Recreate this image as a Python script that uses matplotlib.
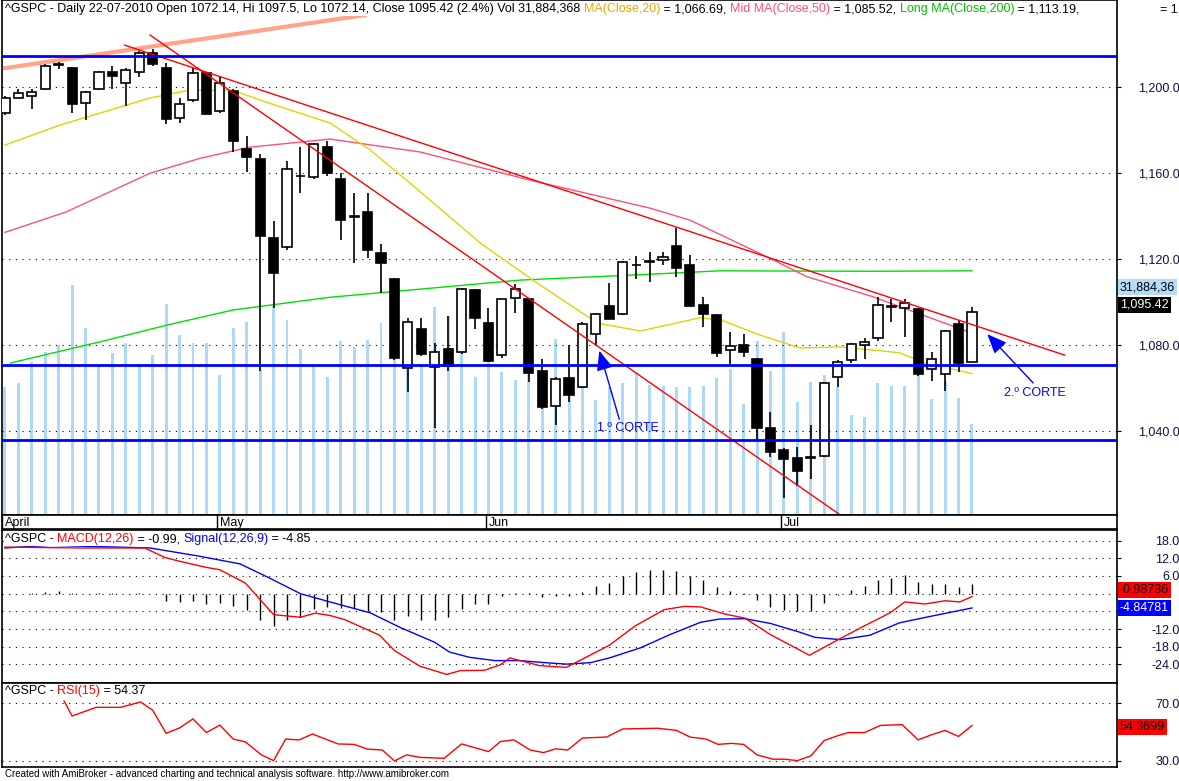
import matplotlib
matplotlib.use('Agg')
import matplotlib.pyplot as plt
import numpy as np

''' ^GSPC daily chart, amibroker style: candles + volume, MACD, RSI '''

plt.rcParams['font.family'] = 'Liberation Sans'

# daily candles, 1 april - 22 july 2010
opens = [1188, 1195, 1196, 1199, 1210.5, 1209, 1192.4, 1199, 1207, 1202, 1207, 1215.7, 1209, 1185.4, 1194, 1206.7,
         1189, 1198, 1171.3, 1166.5, 1130, 1125.4, 1158.8, 1158, 1172, 1157, 1140, 1141.7, 1122.6, 1110.7,
         1069.2, 1087.4, 1069.6, 1078, 1076.6, 1105.6, 1090.4, 1075.2, 1101.7, 1101.4, 1068, 1051.8, 1064.5,
         1060.3, 1085.3, 1098, 1094.3, 1117.4, 1118.9, 1119.4, 1126, 1117.2, 1098.6, 1094, 1077.5, 1079.9,
         1073.5, 1041.3, 1031.2, 1027.3, 1027.6, 1028.4, 1065.1, 1072.9, 1079.9, 1083.1, 1098.3, 1097.4,
         1096.6, 1068.7, 1066.4, 1089.8, 1072.14]
highs = [1196, 1199, 1199, 1210.5, 1211.8, 1209.5, 1198, 1207.5, 1210, 1209, 1217, 1217.5, 1211, 1195, 1208.8, 1207,
         1204.6, 1199, 1177, 1169, 1137.7, 1165.6, 1172.3, 1174, 1175, 1160, 1150.6, 1150.7, 1127, 1111,
         1092.7, 1092.7, 1081, 1093.6, 1106.5, 1106, 1097, 1101.5, 1108.4, 1102, 1073.5, 1065, 1080,
         1090.5, 1095, 1108.7, 1119, 1121.4, 1123.4, 1123.4, 1134.3, 1122, 1102.2, 1094.5, 1085.9, 1085,
         1074, 1048.7, 1032, 1032.4, 1042.8, 1063, 1073, 1081, 1083.1, 1102.2, 1101.5, 1101.3,
         1097, 1076.6, 1087, 1091.6, 1097.5]
lows = [1187, 1195, 1190, 1198.5, 1208.2, 1188, 1184.7, 1198.5, 1199, 1191, 1204.8, 1210, 1183, 1183.4, 1193, 1187,
        1188, 1170, 1160.6, 1068, 1097, 1124, 1150.8, 1157, 1158.6, 1129, 1118.3, 1120.6, 1104, 1073,
        1058, 1075, 1041.3, 1068, 1076, 1087.4, 1072, 1074, 1095, 1062.7, 1050, 1042.8, 1053.6,
        1060, 1079.7, 1092, 1094, 1110.6, 1109.4, 1117.2, 1111.8, 1097.5, 1088.5, 1074.3, 1071.2, 1074.3,
        1035.8, 1028, 1009, 1014.6, 1017.5, 1028, 1060.3, 1071.6, 1073.3, 1082, 1090.8, 1083.6,
        1065.6, 1063.4, 1058.8, 1067.6, 1072.14]
closes = [1195, 1197, 1197.5, 1210, 1210.2, 1192, 1197.5, 1207, 1205, 1208, 1216, 1210.8, 1185, 1192, 1206.4, 1187.6,
          1202, 1175, 1167.6, 1130.8, 1113.6, 1162, 1158.4, 1173.5, 1160, 1138, 1139.5, 1124, 1118, 1073.8,
          1090.6, 1075.8, 1076.6, 1070, 1106, 1092.4, 1072.7, 1101.3, 1105.9, 1066.8, 1051.3, 1064, 1056.7,
          1089.8, 1094.4, 1092.2, 1118.5, 1117.0, 1118.5, 1120.8, 1116, 1098.3, 1094.4, 1076.1, 1079.5, 1076.9,
          1041.5, 1030.4, 1026.8, 1021.5, 1028, 1062.2, 1072.2, 1080.3, 1081.3, 1098.5, 1097.9, 1099.4,
          1066.5, 1073.3, 1086.5, 1071.8, 1095.42]
volume_m = [44.8, 46.2, 53.6, 57.1, 59.5, 80.5, 65.5, 52.5, 56.7, 60.2, 52.5, 56.0, 73.9, 63.0, 60.2, 60.2,
            49.0, 65.5, 67.6, 50.8, 73.5, 68.3, 58.1, 51.8, 48.3, 60.9, 58.8, 61.3, 67.2, 60.6, 60.6, 51.8,
            72.8, 69.7, 56.7, 48.3, 62.0, 50.1, 47.3, 52.5, 40.3, 61.6, 48.3, 51.8, 40.3, 44.8, 46.2, 49.7,
            45.5, 45.2, 44.8, 44.8, 45.2, 48.0, 51.1, 38.9, 60.9, 50.4, 64.1, 39.6, 46.6, 49.0, 44.8, 35.0,
            34.3, 46.2, 45.2, 45.2, 49.0, 40.6, 46.9, 41.0, 31.88]
month_labels = ['April', 'May', 'Jun', 'Jul']
month_index = [0, 16, 36, 58]

# moving averages (candle index, value)
ma20_idx = [0, 4.1, 10.8, 13.8, 16.9, 20.1, 24.2, 27.2, 29.9, 35.4, 39.3, 44.1, 47.3, 51.8, 53.5, 56.0, 59.2, 62.2, 66.6, 68.4, 72]
ma20_val = [1173.0, 1182.3, 1194.9, 1198.6, 1198.6, 1191.6, 1183.3, 1170.7, 1156.7, 1127.4, 1110.2, 1090.2, 1086.5,
            1092.7, 1091.2, 1085.1, 1078.6, 1079.1, 1076.4, 1071.8, 1066.7]
ma50_idx = [0, 4.6, 10.8, 14.5, 18.2, 24.2, 30.9, 39.1, 48.0, 51.0, 56.7, 59.7, 64.6, 72]
ma50_val = [1132.4, 1142.0, 1159.9, 1166.8, 1172.0, 1175.8, 1169.8, 1156.7, 1143.7, 1138.1, 1121.1, 1111.8, 1102.5, 1085.5]
ma200_idx = [0.4, 7.1, 12.1, 17.0, 24.2, 38.4, 48.0, 53.2, 64.4, 72]
ma200_val = [1071.6, 1081.5, 1089.3, 1096.3, 1102.2, 1110.2, 1112.9, 1114.5, 1114.3, 1114.5]

# drawn studies: trend lines and support levels
trend_a = ([8.9, 78.9], [1219.5, 1075.3])
trend_b = ([10.8, 62.2], [1224.2, 1000.9])
trend_top = ([0, 26.8], [1208.8, 1233.5])
support_levels = [1214.4, 1070.7, 1035.8]

# MACD panel
macd_idx = [0, 5.6, 10.4, 11.9, 13.0, 14.9, 16.0, 17.9, 19.0, 20.0, 22.0, 23.1, 24.2, 25.3, 27.9, 29.0, 30.9, 32.9,
            33.9, 35.7, 36.9, 37.6, 39.8, 41.8, 42.4, 45.0, 46.9, 49.1, 50.6, 51.8, 53.6, 55.1, 57.0, 59.2, 59.9,
            62.2, 64.0, 65.9, 67.0, 68.5, 70.0, 71.1, 72]
macd_val = [15.8, 15.5, 15.5, 12.3, 11, 9, 8.1, 3.6, -2, -7.1, -8, -6.6, -7.4, -8.8, -14.1, -19.3, -24.6, -27.4,
            -26.1, -26, -24.1, -21.8, -24.4, -25, -23.6, -17.5, -11, -5.4, -4.3, -4.5, -6.9, -8.3, -13.9, -19.2, -20.9,
            -15.2, -10.9, -6.5, -2.8, -3.5, -2.4, -2.8, -0.99]
signal_idx = [0, 3.4, 10.8, 14.5, 17.5, 19.7, 22.0, 24.2, 27.2, 29.4, 32.0, 33.1, 34.6, 36.5, 38.3, 40.2, 41.8, 43.6,
              45.0, 47.3, 49.5, 51.8, 53.2, 55.1, 57.0, 59.2, 60.3, 62.2, 64.4, 66.6, 68.9, 72]
signal_val = [15.5, 16.4, 15.5, 12.7, 10.1, 5.3, 0, -2.8, -6.5, -11.4, -16.5, -19.8, -21.6, -22.7, -22.7, -23.4, -23.9,
              -23.4, -21.8, -18.4, -13.9, -9.7, -8.6, -8.5, -10.1, -13.1, -14.8, -15.6, -14.1, -9.9, -7.7, -4.85]
hist_val = [0, 0, 0.2, 0.5, 0.9, 0.2, 0, 0.2, 0.1, 0, 0.1, 0, -2.4, -2.8, -2.4, -3.4, -3, -4.3, -5.6, -8.8, -11, -9,
            -8, -5.1, -4.5, -4.9, -4.7, -5.8, -6.2, -8.8, -7.6, -9, -8.8, -8, -5.1, -3.4, -3.5, -0.8, 0.3, 0.1,
            -1.2, -0.9, -0.8, 0.4, 2.5, 3.6, 5.9, 7.4, 8, 8, 7.6, 5.9, 4.5, 2.3, 0.8, 0.1, -2, -4.5, -5.4, -6,
            -5.8, -3.2, -0.5, 1.3, 2.6, 4.6, 5.4, 6.2, 4.1, 3.3, 3.3, 2.4, 3.3]

# RSI panel
rsi_idx = [4.4, 5.0, 6.8, 8.6, 10.1, 11.0, 12.0, 13.0, 14.0, 15.0, 16.0, 17.0, 17.9, 19.1, 20.0, 20.9, 21.9, 22.9,
           24.8, 26.0, 27.0, 28.1, 29.0, 29.9, 30.9, 32.7, 34.0, 36.0, 36.9, 37.9, 39.1, 40.1, 41.0, 41.9, 43.0,
           44.8, 46.0, 48.6, 50.0, 51.0, 52.2, 53.1, 54.1, 55.0, 56.0, 57.2, 58.1, 59.0, 60.0, 61.0, 62.0, 62.8,
           64.0, 65.2, 66.8, 68.0, 69.0, 70.0, 71.0, 72.0]
rsi_val = [71.4, 61, 67, 67, 70.7, 65, 49, 52.7, 59, 49.5, 54.7, 45, 43, 34, 30, 45, 44.4, 48.5, 41.6, 41.3, 38,
           37.4, 29.8, 34, 32.3, 31.6, 41.6, 36.3, 43.3, 44.4, 37.4, 35.6, 38.2, 37.4, 45.7, 46.4, 52, 52.5, 51,
           46.4, 45, 41.3, 42, 41.3, 34, 31, 31, 30, 33.3, 44, 47.3, 49.5, 49.5, 54.5, 55, 44.4, 48, 51, 46.8, 54.37]

W, H = 1179, 781
RIGHT = 1117
LABEL_COL = '#101040'


def rect(x0, y0, x1, y1):
	# pixel box -> figure fraction
	return [x0 / W, 1 - y1 / H, (x1 - x0) / W, (y1 - y0) / H]


def chain(fig, x, y, parts, size=9):
	r = fig.canvas.get_renderer()
	for s, c in parts:
		t = fig.text(x / W, 1 - y / H, s, color=c, fontsize=size, va='center', ha='left', zorder=10)
		x += t.get_window_extent(r).width
	return x


def value_box(fig, y, s, fc, tc):
	fig.text(1120 / W, 1 - y / H, s, fontsize=9, color=tc, va='center', ha='left', zorder=10,
	         bbox=dict(boxstyle='square,pad=0.15', fc=fc, ec='none'))


def main():
	fig = plt.figure(figsize=(W / 100, H / 100), dpi=100)
	n = len(closes)
	idx = np.arange(n)
	xlim = (-0.22, (RIGHT - 5) / 13.43)

	ax_vol = fig.add_axes(rect(2, 0, RIGHT, 515))
	ax = fig.add_axes(rect(2, 0, RIGHT, 515))
	ax.patch.set_alpha(0)
	ax_vol.bar(idx, volume_m, width=0.22, color='#add8f7', linewidth=0)
	ax_vol.set_ylim(0, 180.5)
	ax_vol.set_xlim(*xlim)
	ax_vol.axis('off')

	ax.set_xlim(*xlim)
	ax.set_ylim(1000.9, 1240.5)
	for lvl in [1040, 1080, 1120, 1160, 1200]:
		ax.axhline(lvl, color='black', ls=(0, (1, 5)), lw=0.8, zorder=0)
	ax.plot(trend_top[0], trend_top[1], color='#ffa488', lw=3, zorder=2)
	ax.plot(ma200_idx, ma200_val, color='#00e000', lw=1, zorder=2)
	ax.plot(ma50_idx, ma50_val, color='#ff4f7a', lw=1, zorder=2)
	ax.plot(ma20_idx, ma20_val, color='#e0d400', lw=1, zorder=2)
	for o, h, l, c, i in zip(opens, highs, lows, closes, idx):
		ax.vlines(i, l, h, color='black', lw=1.2, zorder=3)
		up = c >= o
		ax.bar(i, max(abs(c - o), 0.4), bottom=min(o, c), width=0.68,
		       color='white' if up else 'black', edgecolor='black', lw=1.2, zorder=4)
	ax.plot(trend_a[0], trend_a[1], color='#ff0000', lw=1, zorder=5)
	ax.plot(trend_b[0], trend_b[1], color='#ff0000', lw=1, zorder=5)
	for lvl in support_levels:
		ax.axhline(lvl, color='#0000ff', lw=2, zorder=5)
	arrow = dict(arrowstyle='-|>,head_width=0.5,head_length=1.2', color='#0000ff', lw=1)
	ax.annotate('', xy=(44.2, 1078.6), xytext=(45.8, 1044.2), arrowprops=arrow, zorder=6)
	ax.text(44.1, 1041.4, '1.º CORTE', color='#0000ff', fontsize=9, ha='left', va='center')
	ax.annotate('', xy=(73.0, 1086.0), xytext=(76.7, 1061.4), arrowprops=arrow, zorder=6)
	ax.text(76.7, 1057.7, '2.º CORTE', color='#0000ff', fontsize=9, ha='center', va='center')
	ax.set_yticks([1040, 1080, 1120, 1160, 1200])
	ax.set_yticklabels(['1,040.0', '1,080.0', '1,120.0', '1,160.0', '1,200.0'])
	ax.set_xticks([])

	# date strip
	ax_d = fig.add_axes(rect(2, 515, RIGHT, 529))
	ax_d.set_xlim(*xlim)
	ax_d.set_ylim(0, 1)
	ax_d.set_xticks([])
	ax_d.set_yticks([])
	for lab, i in zip(month_labels, month_index):
		ax_d.axvline(i - 0.2, color='black', lw=1)
		ax_d.text(i, 0.45, lab, fontsize=9, va='center', ha='left')

	# MACD
	ax_m = fig.add_axes(rect(2, 530, RIGHT, 683))
	ax_m.set_xlim(*xlim)
	ax_m.set_ylim(-30.3, 21.6)
	for lvl in [18, 12, 6, 0, -6, -12, -18, -24]:
		ax_m.axhline(lvl, color='black', ls=(0, (1, 5)), lw=0.8, zorder=0)
	ax_m.vlines(idx, 0, hist_val, color='black', lw=1)
	ax_m.plot(signal_idx, signal_val, color='#0000ff', lw=1)
	ax_m.plot(macd_idx, macd_val, color='#ff0000', lw=1)
	ax_m.set_yticks([18, 12, 6, -12, -18, -24])
	ax_m.set_yticklabels(['18.0', '12.0', '6.0', '-12.0', '-18.0', '-24.0'])
	ax_m.set_xticks([])

	# RSI
	ax_r = fig.add_axes(rect(2, 683, RIGHT, 767))
	ax_r.set_xlim(*xlim)
	ax_r.set_ylim(25.6, 83.9)
	for lvl in [70, 30]:
		ax_r.axhline(lvl, color='black', ls=(0, (1, 5)), lw=0.8, zorder=0)
	ax_r.plot(rsi_idx, rsi_val, color='#ff0000', lw=1)
	ax_r.set_yticks([70, 30])
	ax_r.set_yticklabels(['70.0', '30.0'])
	ax_r.set_xticks([])

	for a in [ax, ax_d, ax_m, ax_r]:
		a.yaxis.tick_right()
		a.tick_params(axis='y', length=3, labelsize=9, pad=42, labelcolor=LABEL_COL)
		for t in a.get_yticklabels():
			t.set_horizontalalignment('right')
		for s in a.spines.values():
			s.set_linewidth(1.2)

	# panel headers, white patch behind so the gridlines stop at the text
	for y, parts in [(9, [('^GSPC - Daily 22-07-2010 Open 1072.14, Hi 1097.5, Lo 1072.14, Close 1095.42 (2.4%) Vol 31,884,368 ', 'black'),
	                      ('MA(Close,20)', '#e8a800'), (' = 1,066.69, ', 'black'),
	                      ('Mid MA(Close,50)', '#ff4f7a'), (' = 1,085.52, ', 'black'),
	                      ('Long MA(Close,200)', '#00c000'), (' = 1,113.19,', 'black')]),
	                 (539, [('^GSPC - ', 'black'), ('MACD(12,26)', '#ff0000'), (' = -0.99, ', 'black'),
	                        ('Signal(12,26,9)', '#0000ff'), (' = -4.85', 'black')]),
	                 (691, [('^GSPC - ', 'black'), ('RSI(15)', '#ff0000'), (' = 54.37', 'black')])]:
		x_end = chain(fig, 5, y, parts)
		fig.patches.append(plt.Rectangle((4 / W, 1 - (y + 7) / H), (x_end - 2) / W, 13 / H,
		                                 transform=fig.transFigure, fc='white', ec='none', zorder=5))
	fig.text(1160 / W, 1 - 9 / H, '= 1,', fontsize=9, va='center')

	value_box(fig, 287, '31,884,36', '#b4dcf8', 'black')
	value_box(fig, 305, '1,095.42', 'black', 'white')
	value_box(fig, 590, '-0.98736', '#ff0000', 'black')
	value_box(fig, 608, '-4.84781', '#0000ff', 'white')
	value_box(fig, 727, '54.3699', '#ff0000', 'black')
	fig.text(5 / W, 1 - 774 / H, 'Created with AmiBroker - advanced charting and technical analysis software. http://www.amibroker.com',
	         fontsize=7, va='center')

	fig.savefig('out.png', dpi=100)


if __name__ == "__main__":
	main()
